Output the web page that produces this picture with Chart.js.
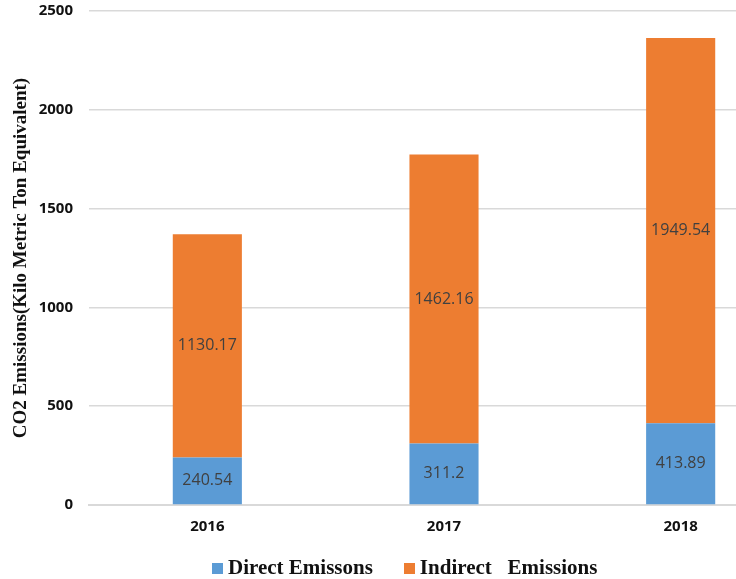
<!DOCTYPE html>
<html>
<head>
<meta charset="utf-8">
<script src="https://cdn.jsdelivr.net/npm/chart.js@4"></script>
<style>
  html, body { margin: 0; padding: 0; background: #fff; overflow: hidden; }
  #wrap { position: relative; width: 736px; height: 579px; overflow: hidden; }
  #wrap canvas { position: absolute; left: 0; top: 0; }
  #legend { position: absolute; top: 555px; left: 212px; font-family: "Liberation Serif", "DejaVu Serif", serif;
            font-weight: bold; font-size: 21px; color: #111; white-space: pre; display: flex; }
  .item { display: flex; align-items: center; }
  .sw { width: 11px; height: 11px; display: inline-block; margin-right: 5px; margin-top: 2px; }
</style>
</head>
<body>
<div id="wrap">
  <canvas id="bar" width="800" height="579" style="width:800px;height:579px"></canvas>
  <div id="legend"></div>
</div>
<script>
const years = ['2016', '2017', '2018'];
const direct = [240.54, 311.2, 413.89];
const indirect = [1130.17, 1462.16, 1949.54];
const seriesNames = ['Direct Emissons', 'Indirect   Emissions'];
const colors = ['#5B9BD5', '#ED7D31'];

const tickFont = { family: '"Open Sans", "Liberation Sans", sans-serif', weight: 'bold', size: 15 };

const barLabels = {
  id: 'barLabels',
  afterDatasetsDraw(chart) {
    const ctx = chart.ctx;
    ctx.save();
    ctx.font = '16px "Open Sans", "Liberation Sans", sans-serif';
    ctx.fillStyle = '#404040';
    ctx.textAlign = 'center';
    ctx.textBaseline = 'middle';
    chart.data.datasets.forEach((ds, i) => {
      chart.getDatasetMeta(i).data.forEach((bar, j) => {
        const y = (bar.y + bar.base) / 2;
        ctx.fillText(String(ds.data[j]), bar.x, y);
      });
    });
    ctx.restore();
  }
};

let config = {
  type: 'bar',
  data: {
    labels: years,
    datasets: [
      { label: seriesNames[0], data: direct, backgroundColor: colors[0] },
      { label: seriesNames[1], data: indirect, backgroundColor: colors[1] }
    ]
  },
  options: {
    responsive: false,
    animation: false,
    layout: { padding: { left: 10, top: 11, right: 1, bottom: 34 } },
    datasets: { bar: { barPercentage: 1, categoryPercentage: 0.292 } },
    plugins: { legend: { display: false }, tooltip: { enabled: false } },
    scales: {
      x: {
        stacked: true,
        grid: { display: false, drawTicks: false },
        border: { color: '#d9d9d9', width: 2 },
        ticks: { color: '#111', padding: 13, font: tickFont },
        afterFit(scale) { scale.height = 40; scale.paddingLeft = 0; scale.paddingRight = 0; }
      },
      y: {
        stacked: true,
        min: 0, max: 2500,
        ticks: { stepSize: 500, color: '#111', padding: 16, font: tickFont, callback: v => String(v) },
        grid: { color: '#d9d9d9', lineWidth: 1.5, drawTicks: false },
        border: { display: false },
        title: {
          display: true,
          text: 'CO2 Emissions(Kilo Metric Ton Equivalent)',
          color: '#111',
          padding: 0,
          font: { family: '"Liberation Serif", "DejaVu Serif", serif', weight: 'bold', size: 19 }
        },
        afterFit(scale) { scale.width = 79; scale.paddingTop = 0; scale.paddingBottom = 0; }
      }
    }
  },
  plugins: [barLabels]
};

let ctx = document.getElementById('bar').getContext('2d');
window.myBar = new Chart(ctx, config);

const legend = document.getElementById('legend');
seriesNames.forEach((name, i) => {
  const item = document.createElement('span');
  item.className = 'item';
  item.style.marginRight = i === 0 ? '31px' : '0';
  const sw = document.createElement('span');
  sw.className = 'sw';
  sw.style.background = colors[i];
  item.appendChild(sw);
  item.appendChild(document.createTextNode(name));
  legend.appendChild(item);
});
</script>
</body>
</html>
